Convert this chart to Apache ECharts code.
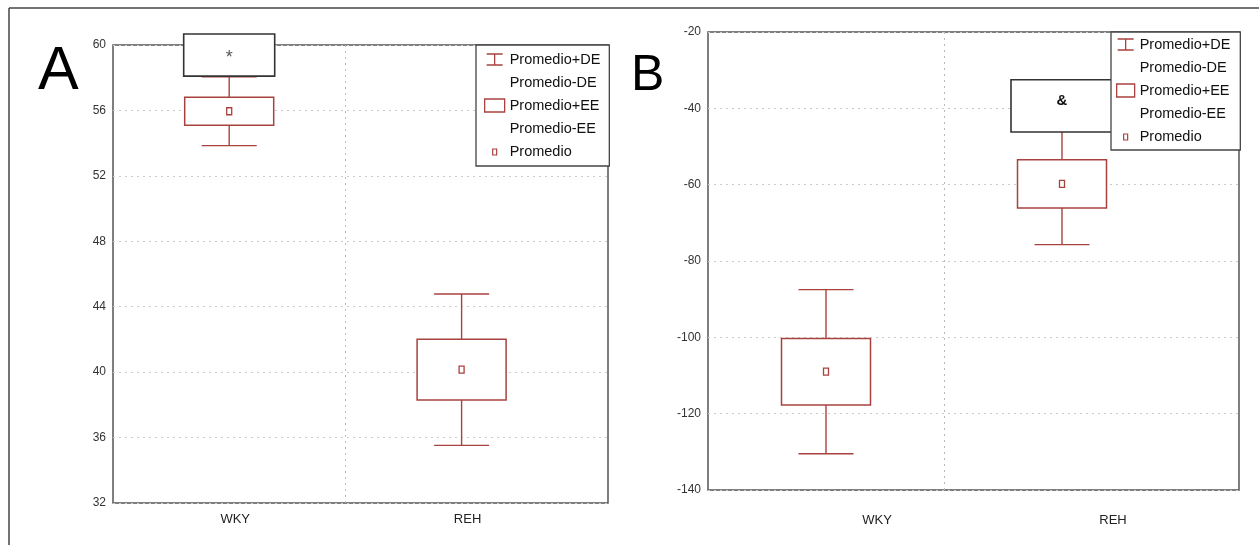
<!DOCTYPE html>
<html>
<head>
<meta charset="utf-8">
<script src="https://cdn.jsdelivr.net/npm/echarts@6/dist/echarts.min.js"></script>
<style>html,body{margin:0;padding:0;background:#fff}#c{width:1259px;height:545px}</style>
</head>
<body>
<div id="c"></div>
<script>
// ---------- data ----------
const categories = ['WKY', 'REH'];
// Panel A
const meanA = [55.95, 40.15];
const seA = [0.85, 1.86];
const sdA = [2.1, 4.63];
const sigLabelA = ['*', ''];
const sigTopA = [60.67, null];
const sigBottomA = [58.1, null];
const yTicksA = { min: 32, max: 60, interval: 4 };
// Panel B
const meanB = [-109.0, -59.8];
const seB = [8.7, 6.3];
const sdB = [21.5, 15.9];
const sigLabelB = ['', '&'];
const sigTopB = [null, -32.5];
const sigBottomB = [null, -46.2];
const yTicksB = { min: -140, max: -20, interval: 20 };
const legendNames = ['Promedio+DE', 'Promedio-DE', 'Promedio+EE', 'Promedio-EE', 'Promedio'];

// ---------- styles ----------
const RED = '#a8423f';
const FRAME = '#555';
const BOX_W = 89, CAP_W = 55;

function statData(mean, se, sd) {
  return categories.map((c, i) => [i, mean[i], sd[i], se[i]]);
}
function sigData(labels, tops, bottoms) {
  return categories.map((c, i) => [i, tops[i], bottoms[i], labels[i]]);
}

function whiskerRender(params, api) {
  const x = api.coord([api.value(0), 0])[0];
  const m = api.value(1), sd = api.value(2), se = api.value(3);
  const yt = api.coord([0, m + sd])[1];
  const yb = api.coord([0, m - sd])[1];
  const et = api.coord([0, m + se])[1];
  const eb = api.coord([0, m - se])[1];
  const st = { stroke: RED, lineWidth: 1.4, fill: null };
  return { type: 'group', children: [
    { type: 'line', shape: { x1: x, y1: yt, x2: x, y2: et }, style: st },
    { type: 'line', shape: { x1: x, y1: eb, x2: x, y2: yb }, style: st },
    { type: 'line', shape: { x1: x - CAP_W / 2, y1: yt, x2: x + CAP_W / 2, y2: yt }, style: st },
    { type: 'line', shape: { x1: x - CAP_W / 2, y1: yb, x2: x + CAP_W / 2, y2: yb }, style: st }
  ]};
}
function boxRender(params, api) {
  const x = api.coord([api.value(0), 0])[0];
  const m = api.value(1), se = api.value(3);
  const et = api.coord([0, m + se])[1];
  const eb = api.coord([0, m - se])[1];
  return { type: 'rect', shape: { x: x - BOX_W / 2, y: et, width: BOX_W, height: eb - et },
    style: { stroke: RED, lineWidth: 1.5, fill: '#fff' } };
}
function meanRender(params, api) {
  const p = api.coord([api.value(0), api.value(1)]);
  return { type: 'rect', shape: { x: p[0] - 2.5, y: p[1] - 3.5, width: 5, height: 7 },
    style: { stroke: RED, lineWidth: 1.3, fill: '#fff' } };
}
function sigRender(bold, size) {
  return function (params, api) {
    const lab = api.value(3);
    if (!lab) return null;
    const x = api.coord([api.value(0), 0])[0];
    const yt = api.coord([0, api.value(1)])[1];
    const yb = api.coord([0, api.value(2)])[1];
    const w = bold ? 102 : 91;
    return { type: 'group', children: [
      { type: 'rect', shape: { x: x - w / 2, y: yt, width: w, height: yb - yt },
        style: { stroke: '#333', lineWidth: 1.6, fill: '#fff' } },
      { type: 'text', style: { x: x, y: (yt + yb) / 2 + (bold ? -5 : 3), text: lab, align: 'center', verticalAlign: 'middle',
        fill: bold ? '#111' : '#555', font: (bold ? 'bold ' : '') + size + 'px "Liberation Sans", Arial, sans-serif' } }
    ]};
  };
}

function panelSeries(gi, mean, se, sd, sigL, sigT, sigB, bold, size) {
  const d = statData(mean, se, sd);
  return [
    { type: 'custom', name: 'Promedio+DE', xAxisIndex: gi, yAxisIndex: gi, clip: false, renderItem: whiskerRender,
      encode: { x: 0, y: 1 }, data: d, z: 3,
      markLine: { silent: true, symbol: 'none', label: { show: false },
        lineStyle: { type: [2, 4], color: '#bbb', width: 1 }, data: [{ xAxis: 0.5 }] } },
    { type: 'custom', name: 'Promedio-DE', xAxisIndex: gi, yAxisIndex: gi, renderItem: () => null, data: [] },
    { type: 'custom', name: 'Promedio+EE', xAxisIndex: gi, yAxisIndex: gi, clip: false, renderItem: boxRender,
      encode: { x: 0, y: 1 }, data: d, z: 4 },
    { type: 'custom', name: 'Promedio-EE', xAxisIndex: gi, yAxisIndex: gi, renderItem: () => null, data: [] },
    { type: 'custom', name: 'Promedio', xAxisIndex: gi, yAxisIndex: gi, clip: false, renderItem: meanRender,
      encode: { x: 0, y: 1 }, data: d, z: 5 },
    { type: 'custom', name: 'sig' + gi, xAxisIndex: gi, yAxisIndex: gi, clip: false, renderItem: sigRender(bold, size),
      encode: { x: 0, y: 1 }, data: sigData(sigL, sigT, sigB), z: 6 }
  ];
}

function legendCfg(left, top, pad, itemW) {
  const ist = { color: '#fff', borderColor: RED, borderWidth: 1.3 };
  return {
    orient: 'vertical', left: left, top: top, selectedMode: false,
    padding: pad, itemWidth: itemW, itemHeight: 13, itemGap: 8,
    backgroundColor: '#fff', borderColor: '#444', borderWidth: 1.3, borderRadius: 0,
    textStyle: { color: '#111', fontSize: 14.5, fontFamily: '"Liberation Sans", Arial, sans-serif' },
    data: [
      { name: legendNames[0], icon: 'path://M0,1H16M8,1V12M0,12H16M0,0M16,13', itemStyle: ist },
      { name: legendNames[1], icon: 'none' },
      { name: legendNames[2], icon: 'rect', itemStyle: ist },
      { name: legendNames[3], icon: 'none' },
      { name: legendNames[4], icon: 'path://M0,0M16,13M6,4H10V10H6Z', itemStyle: { color: '#fff', borderColor: RED, borderWidth: 1.2 } }
    ],
    z: 10
  };
}

function yAxisCfg(gi, t) {
  return { type: 'value', gridIndex: gi, min: t.min, max: t.max, interval: t.interval,
    axisLine: { show: false }, axisTick: { show: false },
    axisLabel: { color: '#333', fontSize: 12, margin: 7,
      fontFamily: '"Liberation Sans Narrow", "Liberation Sans", Arial, sans-serif' },
    splitLine: { show: true, lineStyle: { type: [2, 4], color: '#ccc', width: 1 } } };
}
function xAxisCfg(gi, max, margin, shift) {
  return { type: 'value', gridIndex: gi, min: -0.5, max: max, interval: 0.5,
    axisLine: { show: false }, axisTick: { show: false }, splitLine: { show: false },
    axisLabel: { color: '#222', fontSize: 13, margin: margin, padding: [0, 0, 0, shift],
      fontFamily: '"Liberation Sans", Arial, sans-serif', showMaxLabel: false,
      formatter: v => (Number.isInteger(v) && categories[v] !== undefined) ? categories[v] : '' } };
}

const option = {
  animation: false,
  backgroundColor: '#fff',
  grid: [
    { left: 113, top: 45, width: 495, height: 458, show: true, borderColor: FRAME, borderWidth: 1.5, backgroundColor: 'transparent' },
    { left: 708, top: 32, width: 531, height: 458, show: true, borderColor: FRAME, borderWidth: 1.5, backgroundColor: 'transparent' }
  ],
  xAxis: [xAxisCfg(0, 1.63, 10, 12), xAxisCfg(1, 1.75, 24, 102)],
  yAxis: [yAxisCfg(0, yTicksA), yAxisCfg(1, yTicksB)],
  legend: [legendCfg(476, 45, [7, 9, 7, 8], 20), legendCfg(1111, 32, [5, 10, 6, 5], 18)],
  graphic: [
    { type: 'line', shape: { x1: 9, y1: 8, x2: 1259, y2: 8 }, style: { stroke: '#444', lineWidth: 1.5 } },
    { type: 'line', shape: { x1: 9, y1: 8, x2: 9, y2: 545 }, style: { stroke: '#444', lineWidth: 1.5 } },
    { type: 'text', left: 38, top: 42, style: { text: 'A', fill: '#000', font: '61px "Liberation Sans", Arial, sans-serif' } },
    { type: 'text', left: 631, top: 51, style: { text: 'B', fill: '#000', font: '50px "Liberation Sans", Arial, sans-serif' } }
  ],
  series: [
    ...panelSeries(0, meanA, seA, sdA, sigLabelA, sigTopA, sigBottomA, false, 18),
    ...panelSeries(1, meanB, seB, sdB, sigLabelB, sigTopB, sigBottomB, true, 15)
  ]
};
const chart = echarts.init(document.getElementById('c'), null, { renderer: 'canvas' });
chart.setOption(option);
</script>
</body>
</html>
